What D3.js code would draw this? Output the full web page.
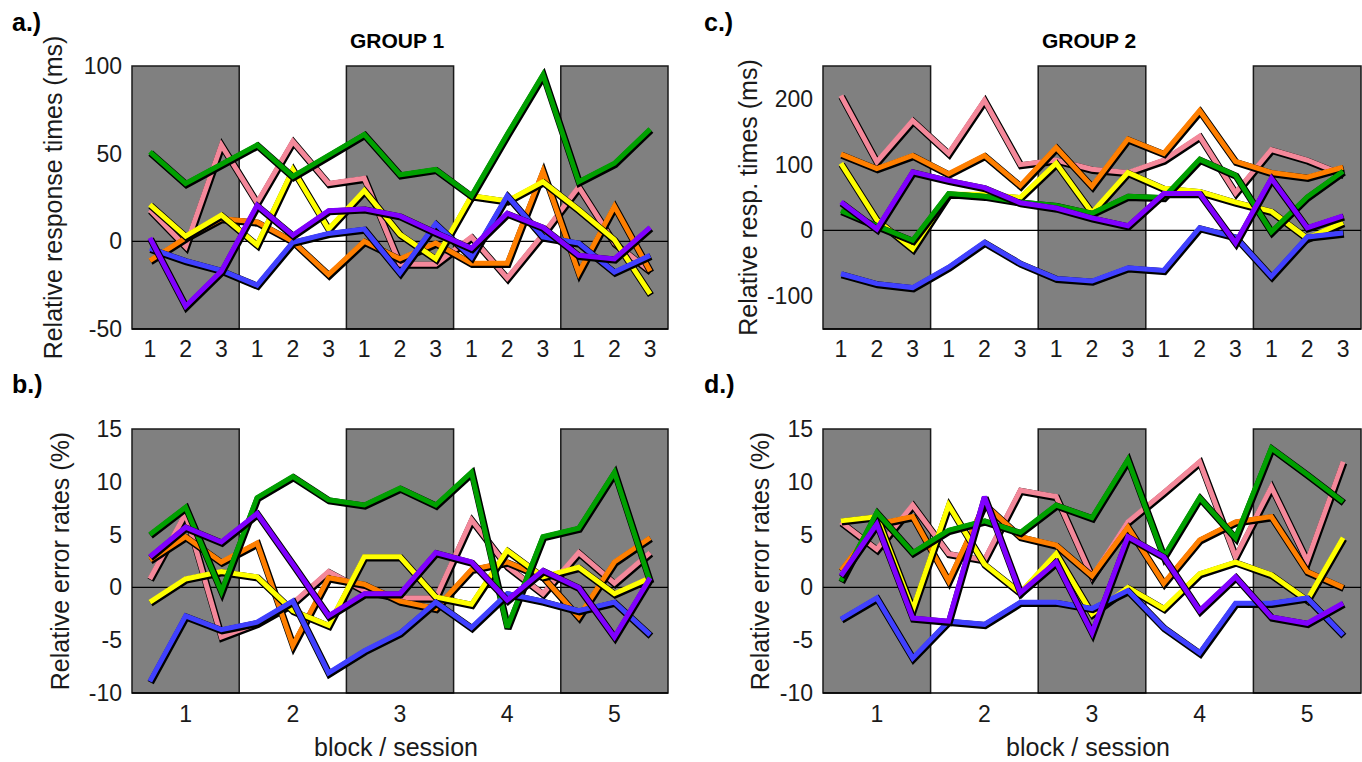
<!DOCTYPE html>
<html>
<head>
<meta charset="utf-8">
<script src="https://cdn.jsdelivr.net/npm/d3@7"></script>
<style>
  html, body { margin: 0; padding: 0; background: #fff; }
  svg { display: block; font-family: "Liberation Sans", Arial, sans-serif; }
</style>
</head>
<body>
<svg id="chart" width="1362" height="762"></svg>
<script>
// ---------- data ----------
const blocks = ["1", "2", "3", "4", "5"];
const sessions = ["1", "2", "3"];
const seriesNames = ["pink", "orange", "yellow", "green", "blue", "purple"];
const seriesColors = ["#f4889a", "#ff7f00", "#ffff00", "#00a000", "#4040ff", "#8000ff"];

const ticksRT1 = [-50, 0, 50, 100];
const ticksRT2 = [-100, 0, 100, 200];
const ticksER = [-10, -5, 0, 5, 10, 15];

// Group 1, relative response times (ms): pink, orange, yellow, green, blue, purple
const rtGroup1 = [
  [18, -3, 55, 22, 57, 33, 36, -13, -13, 2.5, -21, 4, 31, -1, -17],
  [-11, 2, 13, 11, 0, -19, 0, -10, -1, -12.5, -12.5, 40, -18, 20, -17],
  [21, 3, 15, -2, 41, 7, 29, 4, -10, 26, 23, 34, 18, 1, -30],
  [51, 33, 44, 55, 37, 49, 61, 38, 41, 26, 61, 95, 34, 44.5, 64],
  [-4, -11, -16.5, -25, -0.5, 4.5, 7, -18, 10, -9, 26, 2.5, -1, -17.5, -8],
  [2, -37, -17, 20.5, 3.5, 17.5, 18.5, 14.5, 5, -4, 16, 8, -8, -10, 8]
];
// Group 1, relative error rates (%)
const erGroup1 = [
  [0.8, 7, -4.7, -3.4, -1.5, 1.5, -0.3, -1, -1, 6.4, 2, -0.6, 3.3, 0.4, 3.3],
  [2.6, 4.8, 2.4, 4.2, -5.5, 0.9, 0.3, -1.3, -2, 1.7, 2.4, 1, -2.8, 2.4, 4.7],
  [-1.4, 0.8, 1.5, 1, -2.2, -3.6, 2.9, 2.9, -0.9, -1.6, 3.5, 1, 1.9, -0.6, 0.9],
  [5, 7.6, -0.4, 8.5, 10.5, 8.3, 7.8, 9.4, 7.8, 10.9, -3.8, 4.8, 5.6, 10.9, 0.5],
  [-8.9, -2.7, -4, -3.3, -1.3, -8.1, -6, -4.3, -1.4, -3.8, -0.6, -1.3, -2.2, -1.4, -4.5],
  [2.9, 5.7, 4.3, 7, 2.2, -2.7, -0.6, -0.6, 3.3, 2.4, -1.2, 1.6, 0, -4.7, 0.9]
];
// Group 2, relative response times (ms)
const rtGroup2 = [
  [205, 104, 167, 117, 198, 100, 107, 93, 88, 107, 143, 57, 123, 107, 85],
  [116, 94, 114, 86, 114, 68, 126, 67, 139, 117, 182, 105, 88, 81, 96],
  [102, 16, -28, 55, 55, 50, 102, 27, 88, 64, 59, 43, 29, -12, 12],
  [30, 7, -15, 56, 52, 43, 38, 26, 52, 50, 108, 84, -2, 51, 90],
  [-66, -81, -87, -56, -18, -50, -73, -77, -57, -61, 4, -10, -70, -10, -4],
  [43, 2, 89, 76, 65, 42, 34, 19, 7, 56, 56, -19, 79, 4, 22]
];
// Group 2, relative error rates (%)
const erGroup2 = [
  [6.2, 3.6, 7.8, 3.2, 2.6, 9.2, 8.6, 1, 6.2, 9, 11.9, 2.9, 9.5, 2.5, 11.9],
  [1.6, 6, 6.7, 0.6, 7.9, 4.8, 4, 1.1, 5.7, 0.4, 4.5, 6.2, 6.7, 1.5, 0],
  [6.3, 6.7, -2.1, 7.8, 2.2, -0.5, 3.2, -2.5, 0, -2, 1.3, 2.4, 1.2, -1.2, 4.7],
  [0.6, 7.1, 3.3, 5.4, 6.3, 5.2, 7.8, 6.6, 12.1, 2.9, 8.5, 4.7, 13.2, 10.7, 8.1],
  [-3, -1, -6.7, -3.2, -3.5, -1.4, -1.4, -2, -0.3, -3.8, -6.2, -1.5, -1.5, -1, -4.5],
  [1.1, 6, -2.9, -3.2, 8.6, -0.5, 2.4, -4.3, 4.8, 2.9, -2.2, 1, -2.8, -3.4, -1.5]
];

// ---------- layout ----------
const svg = d3.select("#chart");
const FONT = '"Liberation Sans", Arial, sans-serif';

const panels = [
  { letter: "a.)", lx: 12, ly: 31, title: "GROUP 1", left: 132, right: 668, top: 66, bottom: 329,
    domain: [-50, 100], ticks: ticksRT1, data: rtGroup1, ylabel: "Relative response times (ms)", ylx: 53, sessionsTicks: true },
  { letter: "b.)", lx: 12, ly: 393, left: 132, right: 668, top: 429, bottom: 693,
    domain: [-10, 15], ticks: ticksER, data: erGroup1, ylabel: "Relative error rates (%)", ylx: 60, sessionsTicks: false },
  { letter: "c.)", lx: 704, ly: 31, title: "GROUP 2", left: 823, right: 1361, top: 66, bottom: 329,
    domain: [-150, 250], ticks: ticksRT2, data: rtGroup2, ylabel: "Relative resp. times (ms)", ylx: 748, sessionsTicks: true },
  { letter: "d.)", lx: 704, ly: 393, left: 823, right: 1361, top: 429, bottom: 693,
    domain: [-10, 15], ticks: ticksER, data: erGroup2, ylabel: "Relative error rates (%)", ylx: 760, sessionsTicks: false }
];

const pointKeys = [];
blocks.forEach(b => sessions.forEach(s => pointKeys.push(b + "-" + s)));

panels.forEach(p => {
  const g = svg.append("g");
  const xBand = d3.scaleBand().domain(blocks).range([p.left, p.right]).padding(0);
  const xPt = d3.scalePoint().domain(pointKeys).range([p.left, p.right]).padding(0.5);
  const y = d3.scaleLinear().domain(p.domain).range([p.bottom, p.top]);

  // alternating gray blocks
  g.selectAll("rect.band").data(blocks.filter((b, i) => i % 2 === 0)).enter()
    .append("rect")
    .attr("x", d => xBand(d)).attr("y", p.top)
    .attr("width", xBand.bandwidth()).attr("height", p.bottom - p.top)
    .attr("fill", "#808080").attr("stroke", "#1a1a1a").attr("stroke-width", 1.5);

  // zero line
  g.append("line").attr("x1", p.left).attr("x2", p.right)
    .attr("y1", y(0)).attr("y2", y(0)).attr("stroke", "#000").attr("stroke-width", 1.2);
  // bottom axis line
  g.append("line").attr("x1", p.left).attr("x2", p.right)
    .attr("y1", p.bottom).attr("y2", p.bottom).attr("stroke", "#000").attr("stroke-width", 1.6);

  // series
  const line = d3.line().x((d, i) => xPt(pointKeys[i])).y(d => y(d));
  p.data.forEach((vals, si) => {
    g.append("path").attr("d", line(vals))
      .attr("transform", "translate(0.8,1.2)")
      .attr("fill", "none").attr("stroke", "#000").attr("stroke-width", 7)
      .attr("stroke-linejoin", "miter").attr("stroke-miterlimit", 3);
    g.append("path").attr("d", line(vals))
      .attr("fill", "none").attr("stroke", seriesColors[si]).attr("stroke-width", 5)
      .attr("stroke-linejoin", "miter").attr("stroke-miterlimit", 3)
      .attr("data-series", seriesNames[si]);
  });

  // y tick labels
  g.selectAll("text.ytick").data(p.ticks).enter().append("text")
    .attr("x", p.left - 10).attr("y", d => y(d)).attr("dy", "0.35em")
    .attr("text-anchor", "end").attr("font-size", 23).attr("fill", "#1a1a1a")
    .attr("font-family", FONT)
    .text(d => d);

  // x tick labels
  if (p.sessionsTicks) {
    g.selectAll("text.xtick").data(pointKeys).enter().append("text")
      .attr("x", d => xPt(d)).attr("y", p.bottom + 28)
      .attr("text-anchor", "middle").attr("font-size", 23).attr("fill", "#1a1a1a")
      .attr("font-family", FONT)
      .text(d => d.split("-")[1]);
  } else {
    g.selectAll("text.xtick").data(blocks).enter().append("text")
      .attr("x", d => xBand(d) + xBand.bandwidth() / 2).attr("y", p.bottom + 29)
      .attr("text-anchor", "middle").attr("font-size", 23).attr("fill", "#1a1a1a")
      .attr("font-family", FONT)
      .text(d => d);
    g.append("text")
      .attr("x", (p.left + p.right) / 2 - 4).attr("y", 756)
      .attr("text-anchor", "middle").attr("font-size", 25).attr("fill", "#1a1a1a")
      .attr("font-family", FONT)
      .text("block / session");
  }

  // y axis label
  const cy = (p.top + p.bottom) / 2;
  g.append("text")
    .attr("transform", `translate(${p.ylx},${cy}) rotate(-90)`)
    .attr("dy", "0.35em")
    .attr("text-anchor", "middle").attr("font-size", 25).attr("fill", "#1a1a1a")
    .attr("font-family", FONT)
    .text(p.ylabel);

  // panel letter
  g.append("text").attr("x", p.lx).attr("y", p.ly)
    .attr("font-size", 25).attr("font-weight", "bold").attr("fill", "#000")
    .attr("font-family", FONT)
    .text(p.letter);

  if (p.title) {
    g.append("text").attr("x", (p.left + p.right) / 2 - 3).attr("y", 48)
      .attr("text-anchor", "middle").attr("font-size", 21).attr("font-weight", "bold").attr("fill", "#000")
      .attr("font-family", FONT)
      .text(p.title);
  }
});
</script>
</body>
</html>
